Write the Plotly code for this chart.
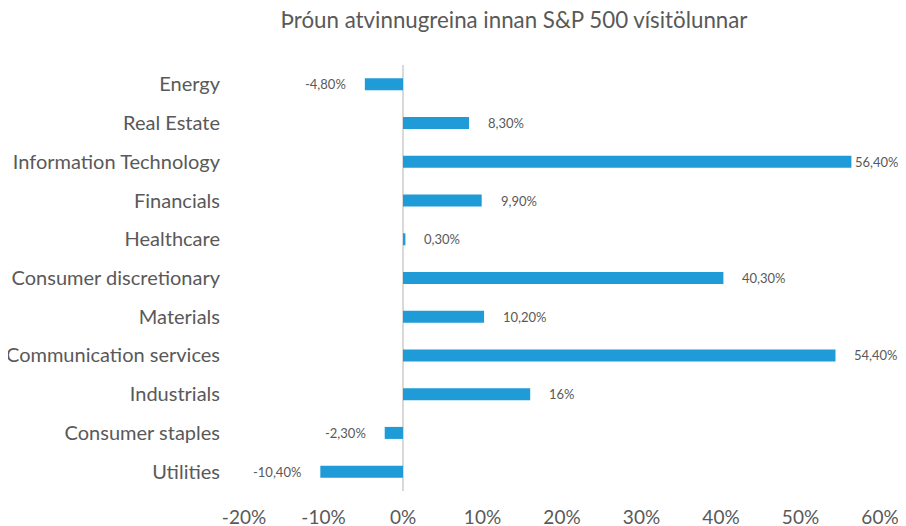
import plotly.graph_objects as go

categories = ["Energy", "Real Estate", "Information Technology", "Financials", "Healthcare",
              "Consumer discretionary", "Materials", "Communication services", "Industrials",
              "Consumer staples", "Utilities"]
values = [-4.8, 8.3, 56.4, 9.9, 0.3, 40.3, 10.2, 54.4, 16, -2.3, -10.4]
value_labels = ["-4,80%", "8,30%", "56,40%", "9,90%", "0,30%", "40,30%", "10,20%",
                "54,40%", "16%", "-2,30%", "-10,40%"]
tick_vals = [-20, -10, 0, 10, 20, 30, 40, 50, 60]
tick_text = ["-20%", "-10%", "0%", "10%", "20%", "30%", "40%", "50%", "60%"]

FONT = "Lato"
GREY = "#595959"
BLUE = "#1F9BD7"

# page body has an 8px default margin; figure is sized/offset to compensate
W, H = 898, 518

fig = go.Figure(go.Bar(
    x=values, y=categories, orientation="h",
    marker=dict(color=BLUE, line=dict(width=0)),
    width=0.31,
))

annotations = []
for c, v, t in zip(categories, values, value_labels):
    shift = 17
    if v > 55:
        shift = 2
    annotations.append(dict(
        x=v, y=c, xref="x", yref="y", text=t, showarrow=False,
        xanchor="left" if v >= 0 else "right",
        xshift=shift if v >= 0 else -shift,
        font=dict(family=FONT, size=13, color=GREY),
    ))

fig.update_layout(
    width=W, height=H,
    margin=dict(l=236, r=26, t=57, b=35),
    paper_bgcolor="white", plot_bgcolor="white",
    showlegend=False,
    annotations=annotations,
    title=dict(text="Þróun atvinnugreina innan S&P 500 vísitölunnar",
               x=506/W, xanchor="center", y=1 - 12/H, yanchor="middle",
               font=dict(family=FONT, size=22.3, color=GREY)),
    xaxis=dict(range=[-20, 60], tickvals=tick_vals, ticktext=tick_text, automargin=False,
               showgrid=False, zeroline=True, zerolinecolor="#D9D9D9", zerolinewidth=2,
               showline=False, ticks="outside", ticklen=9, tickcolor="rgba(0,0,0,0)",
               tickfont=dict(family=FONT, size=19, color=GREY)),
    yaxis=dict(categoryorder="array", categoryarray=categories, autorange=False, automargin=False,
               range=[10.5, -0.5], showgrid=False, showline=False,
               ticks="outside", ticklen=19, tickcolor="rgba(0,0,0,0)",
               tickfont=dict(family=FONT, size=20, color=GREY)),
)

fig.write_html("out.html")
